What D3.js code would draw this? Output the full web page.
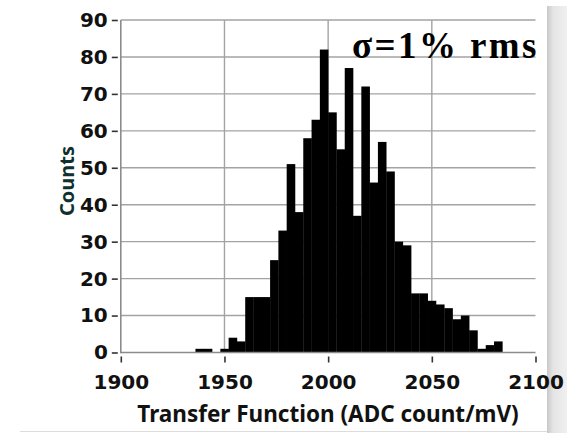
<!DOCTYPE html>
<html>
<head>
<meta charset="utf-8">
<script src="https://cdn.jsdelivr.net/npm/d3@7"></script>
<style>
  html, body { margin: 0; padding: 0; background: #ffffff; }
  svg { display: block; }
</style>
</head>
<body>
<svg id="chart" width="567" height="433"></svg>
<script>
// Histogram bins: lower edge of each bin (ADC count/mV) and the count in it
const binLow = [1936, 1940, 1944, 1948, 1952, 1956, 1960, 1964, 1968, 1972,
                1976, 1980, 1984, 1988, 1992, 1996, 2000, 2004, 2008, 2012,
                2016, 2020, 2024, 2028, 2032, 2036, 2040, 2044, 2048, 2052,
                2056, 2060, 2064, 2068, 2072, 2076, 2080];
const binHigh = [1940, 1944, 1948, 1952, 1956, 1960, 1964, 1968, 1972, 1976,
                 1980, 1984, 1988, 1992, 1996, 2000, 2004, 2008, 2012, 2016,
                 2020, 2024, 2028, 2032, 2036, 2040, 2044, 2048, 2052, 2056,
                 2060, 2064, 2068, 2072, 2076, 2080, 2084];
const counts = [1, 1, 0, 1, 4, 3, 15, 15, 15, 25,
                33, 51, 38, 58, 63, 82, 65, 55, 77, 37,
                72, 46, 57, 49, 30, 29, 16, 16, 14, 13,
                12, 9, 10, 6, 1, 2, 3];

const xTicks = [1900, 1950, 2000, 2050, 2100];
const yTicks = [0, 10, 20, 30, 40, 50, 60, 70, 80, 90];
const xTitle = "Transfer Function (ADC count/mV)";
const yTitle = "Counts";
const note = "σ=1% rms";

const svg = d3.select("#chart");

const x = d3.scaleLinear().domain([1900, 2100]).range([120.8, 535.5]);
const y = d3.scaleLinear().domain([0, 90]).range([352.5, 20]);

// gray panel edge on the right
const defs = svg.append("defs");
const grad = defs.append("linearGradient").attr("id", "edge")
  .attr("x1", "0").attr("x2", "1").attr("y1", "0").attr("y2", "0");
grad.append("stop").attr("offset", "0").attr("stop-color", "#c8c8c8");
grad.append("stop").attr("offset", "0.3").attr("stop-color", "#e4e4e4");
grad.append("stop").attr("offset", "1").attr("stop-color", "#f0f0f0");
svg.append("rect").attr("x", 547).attr("y", 6).attr("width", 20).attr("height", 427)
  .attr("fill", "url(#edge)");
svg.append("line").attr("x1", 20).attr("x2", 547).attr("y1", 431.5).attr("y2", 431.5)
  .attr("stroke", "#dcdcdc").attr("stroke-width", 1);

const gridColor = "#a3a3a3";
const grid = svg.append("g");
// horizontal grid lines
grid.selectAll("line.h").data(yTicks.filter(d => d > 0)).join("line")
  .attr("x1", x(1900)).attr("x2", x(2100))
  .attr("y1", d => y(d)).attr("y2", d => y(d))
  .attr("stroke", gridColor).attr("stroke-width", 1.4);
// vertical grid lines
grid.selectAll("line.v").data(xTicks.filter(d => d > 1900 && d < 2100)).join("line")
  .attr("x1", d => x(d)).attr("x2", d => x(d))
  .attr("y1", y(90)).attr("y2", y(0))
  .attr("stroke", gridColor).attr("stroke-width", 1.4);

// bars
const bins = binLow.map((lo, i) => ({ lo, hi: binHigh[i], n: counts[i] }));
svg.append("g").selectAll("rect").data(bins.filter(d => d.n > 0)).join("rect")
  .attr("x", d => x(d.lo))
  .attr("width", d => x(d.hi) - x(d.lo) + 0.3)
  .attr("y", d => y(d.n))
  .attr("height", d => y(0) - y(d.n))
  .attr("fill", "#000");

// axis frame lines
svg.append("line").attr("x1", x(1900)).attr("x2", x(1900)).attr("y1", y(90)).attr("y2", y(0) + 0.7)
  .attr("stroke", "#8c8c8c").attr("stroke-width", 1.6);
svg.append("line").attr("x1", x(1900)).attr("x2", x(2100)).attr("y1", y(0)).attr("y2", y(0))
  .attr("stroke", "#8c8c8c").attr("stroke-width", 1.6);

// y axis: ticks and labels
const yAxis = d3.axisLeft(y).tickValues(yTicks).tickSize(6).tickPadding(4).tickFormat(d3.format("d"));
const gy = svg.append("g").attr("transform", `translate(${x(1900) - 3},0)`).call(yAxis);
gy.select(".domain").remove();
gy.selectAll(".tick line").attr("stroke", "#333").attr("stroke-width", 1.6);
gy.selectAll(".tick text")
  .attr("font-family", "'DejaVu Sans', Verdana, sans-serif")
  .attr("font-weight", "bold").attr("font-size", 20).attr("fill", "#111");

// x axis: ticks and labels
const xAxis = d3.axisBottom(x).tickValues(xTicks).tickSize(6).tickPadding(12).tickFormat(d3.format("d"));
const gx = svg.append("g").attr("transform", `translate(0,${y(0) + 4})`).call(xAxis);
gx.select(".domain").remove();
gx.selectAll(".tick line").attr("stroke", "#333").attr("stroke-width", 1.6);
gx.selectAll(".tick text")
  .attr("font-family", "'DejaVu Sans', Verdana, sans-serif")
  .attr("font-weight", "bold").attr("font-size", 20).attr("fill", "#111");

// axis titles
svg.append("text").attr("x", 328).attr("y", 422)
  .attr("text-anchor", "middle")
  .attr("font-family", "'Noto Sans', 'DejaVu Sans', sans-serif")
  .attr("font-weight", "bold").attr("font-size", 22.5).attr("fill", "#111")
  .text(xTitle);
svg.append("text")
  .attr("transform", "translate(74,181) rotate(-90)")
  .attr("text-anchor", "middle")
  .attr("font-family", "'Noto Sans', 'DejaVu Sans', sans-serif")
  .attr("font-weight", "bold").attr("font-size", 20).attr("fill", "#10302e")
  .text(yTitle);

// spread annotation
svg.append("text").attr("x", 352).attr("y", 58)
  .attr("font-family", "'Liberation Serif', 'Times New Roman', serif")
  .attr("font-weight", "bold").attr("font-size", 37).attr("letter-spacing", 2.4)
  .attr("fill", "#000")
  .text(note);
</script>
</body>
</html>
